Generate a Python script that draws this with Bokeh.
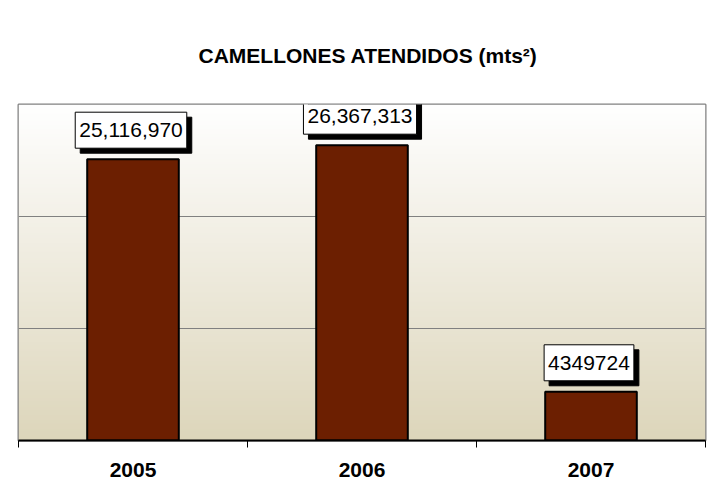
import numpy as np
from bokeh.plotting import figure
from bokeh.models import ColumnDataSource, FixedTicker, Range1d, Title
from bokeh.core.properties import value
from bokeh.embed import file_html
from bokeh.resources import INLINE

# ---- data ----
years = ["2005", "2006", "2007"]
values = [25116970, 26367313, 4349724]
value_labels = ["25,116,970", "26,367,313", "4349724"]
y_max = 30000000
grid_values = [10000000, 20000000]

FONT = "Liberation Sans"

xs = [i + 0.5 for i in range(len(years))]
src = ColumnDataSource(dict(x=xs, top=values, label=value_labels, year=years))

p = figure(width=724, height=497, output_backend="svg", toolbar_location=None,
           x_range=Range1d(0, len(years)), y_range=Range1d(0, y_max),
           min_border_left=18, min_border_right=19, min_border_top=104, min_border_bottom=57,
           background_fill_color="white", border_fill_color="white")

# title
t = Title(text="CAMELLONES ATENDIDOS (mts²)", align="left", text_font=FONT,
          text_font_size="21px", text_font_style="bold", text_color="black",
          offset=180, standoff=75)
p.add_layout(t, "above")

# background gradient of the plot area
n = 256
frac = np.linspace(0, 1, n)[:, None]  # 0 bottom -> 1 top
top_c = np.array([255, 255, 255])
bot_c = np.array([221, 214, 187])
cols = (bot_c + (top_c - bot_c) * frac).astype(np.uint32)
img = np.empty((n, 1), dtype=np.uint32)
view = img.view(dtype=np.uint8).reshape((n, 1, 4))
view[:, :, 0] = cols[:, 0:1]
view[:, :, 1] = cols[:, 1:2]
view[:, :, 2] = cols[:, 2:3]
view[:, :, 3] = 255
p.image_rgba(image=[img], x=0, y=0, dw=len(years), dh=y_max, level="image")

# bars
p.vbar(x="x", top="top", width=0.4, bottom=0, source=src,
       fill_color="#6C1F01", line_color="black", line_width=2)

# value labels with shadow
p.text(x="x", y="top", text="label", source=src, text_align="center",
       text_baseline="middle", x_offset=3, y_offset=-24,
       text_font=value(FONT), text_font_size="21px", text_color="black",
       background_fill_color="black", border_line_color="black",
       padding=(4, 11))
p.text(x="x", y="top", text="label", source=src, text_align="center",
       text_baseline="middle", x_offset=-2, y_offset=-29,
       text_font=value(FONT), text_font_size="21px", text_color="black",
       background_fill_color="white", border_line_color="black",
       border_line_width=1, padding=(4, 11))

# grid
p.xgrid.visible = False
p.ygrid.ticker = FixedTicker(ticks=grid_values)
p.ygrid.grid_line_color = "#808080"
p.ygrid.grid_line_width = 1

# axes
p.yaxis.visible = False
xa = p.xaxis[0]
xa.ticker = FixedTicker(ticks=xs, minor_ticks=list(range(len(years) + 1)))
xa.major_label_overrides = {x: y for x, y in zip(xs, years)}
xa.major_tick_line_color = None
xa.major_tick_out = 0
xa.major_tick_in = 0
xa.minor_tick_line_color = "black"
xa.minor_tick_out = 7
xa.minor_tick_in = 0
xa.axis_line_color = "black"
xa.axis_line_width = 2
xa.major_label_text_font = FONT
xa.major_label_text_font_size = "21px"
xa.major_label_text_font_style = "bold"
xa.major_label_text_color = "black"
xa.major_label_standoff = 15

p.outline_line_color = "#808080"
p.outline_line_width = 2

open("out.html", "w").write(file_html(p, INLINE))
